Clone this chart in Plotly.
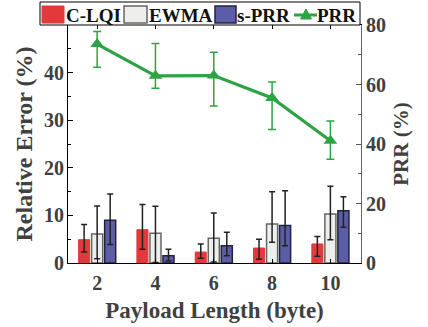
import plotly.graph_objects as go

# ---------------- data ----------------
payload = [2, 4, 6, 8, 10]

clqi = [4.9, 7.0, 2.3, 3.15, 4.0]
clqi_up = [3.2, 5.3, 1.7, 1.85, 1.55]
clqi_dn = [2.6, 4.1, 1.3, 2.35, 2.6]

ewma = [6.1, 6.25, 5.2, 8.2, 10.3]
ewma_up = [5.9, 5.65, 5.3, 6.75, 5.8]
ewma_dn = [5.2, 6.15, 5.0, 3.85, 5.4]

sprr = [9.0, 1.5, 3.6, 7.9, 11.0]
sprr_up = [5.5, 1.4, 2.85, 7.3, 2.9]
sprr_dn = [5.1, 1.1, 2.1, 4.3, 3.5]

prr = [73.6, 62.9, 63.0, 55.5, 41.1]
prr_up = [4.2, 10.9, 7.8, 5.3, 6.6]
prr_dn = [7.8, 4.2, 10.2, 10.6, 6.2]

series_names = ["C-LQI", "EWMA", "s-PRR", "PRR"]
left_ticks = [0, 10, 20, 30, 40]
left_minor = [5, 15, 25, 35, 45]
right_ticks = [0, 20, 40, 60, 80]
right_minor = [10, 30, 50, 70]

RED = "#e23a3a"
GRAY = "#eeeeec"
BLUE = "#5b5ea6"
GREEN = "#2fa344"
FONT = "'Liberation Serif', 'Times New Roman', Times, serif"

# ---------------- layout geometry (pixels) ----------------
W, H = 428, 327
ML, MR, MT, MB = 68, 67, 25, 64
PW = W - ML - MR
PH = H - MT - MB


def px(x):
    return (x - ML) / PW


def py(y):
    return (H - MB - y) / PH


fig = go.Figure()

err_style = dict(type="data", symmetric=False, color="#222222", thickness=1.5, width=3)

fig.add_trace(go.Bar(
    x=payload, y=clqi, name=series_names[0],
    marker=dict(color=RED, line=dict(color=RED, width=1)),
    error_y=dict(array=clqi_up, arrayminus=clqi_dn, **err_style),
    showlegend=False,
))
fig.add_trace(go.Bar(
    x=payload, y=ewma, name=series_names[1],
    marker=dict(color=GRAY, line=dict(color="#666666", width=1.5)),
    error_y=dict(array=ewma_up, arrayminus=ewma_dn, **err_style),
    showlegend=False,
))
fig.add_trace(go.Bar(
    x=payload, y=sprr, name=series_names[2],
    marker=dict(color=BLUE, line=dict(color="#23233a", width=1.5)),
    error_y=dict(array=sprr_up, arrayminus=sprr_dn, **err_style),
    showlegend=False,
))
fig.add_trace(go.Scatter(
    x=payload, y=prr, name=series_names[3], yaxis="y2",
    mode="lines+markers",
    line=dict(color=GREEN, width=3.2),
    marker=dict(symbol="triangle-up", size=12, color=GREEN),
    error_y=dict(type="data", symmetric=False, array=prr_up, arrayminus=prr_dn,
                 color=GREEN, thickness=1.5, width=4),
    showlegend=False,
))

tickfont = dict(family=FONT, size=20, weight="bold", color="#404040")
titlefont_l = dict(family=FONT, size=24, weight="bold", color="#404040")
titlefont_x = dict(family=FONT, size=23, weight="bold", color="#404040")
titlefont_r = dict(family=FONT, size=21, weight="bold", color="#404040")

fig.update_layout(
    template="none",
    width=W, height=H,
    margin=dict(l=ML, r=MR, t=MT, b=MB, pad=0, autoexpand=False),
    paper_bgcolor="white", plot_bgcolor="white",
    barmode="group", bargap=0.33, bargroupgap=0.15,
    font=dict(family=FONT),
    hovermode=False,
    xaxis=dict(
        automargin=False,
        range=[1, 11.05], tickmode="array", tickvals=payload,
        ticktext=[str(v) for v in payload],
        ticks="inside", ticklen=4, tickcolor="black", tickwidth=1,
        showline=True, linecolor="black", linewidth=1, mirror="ticks",
        showgrid=False, zeroline=False, tickfont=tickfont, ticklabelstandoff=2,
        title=dict(text="Payload Length (byte)", font=titlefont_x, standoff=8),
    ),
    yaxis=dict(
        automargin=False,
        range=[0, 50], tickmode="array", tickvals=left_ticks,
        ticks="inside", ticklen=5, tickcolor="black", tickwidth=1,
        minor=dict(tickmode="array", tickvals=left_minor, ticks="inside",
                   ticklen=3, tickcolor="black", showgrid=False),
        showline=True, linecolor="black", linewidth=1,
        showgrid=False, zeroline=False, tickfont=tickfont, ticklabelstandoff=-1,
        title=dict(text="Relative Error (%)", font=titlefont_l, standoff=4),
    ),
    yaxis2=dict(
        automargin=False,
        range=[0, 80], overlaying="y", side="right", tickmode="array",
        tickvals=right_ticks,
        ticks="inside", ticklen=5, tickcolor="#555555", tickwidth=1,
        minor=dict(tickmode="array", tickvals=right_minor, ticks="inside",
                   ticklen=3, tickcolor="#555555", showgrid=False),
        showline=True, linecolor="#666666", linewidth=1,
        showgrid=False, zeroline=False, tickfont=tickfont, ticklabelstandoff=0,
        title=dict(text="PRR (%)", font=titlefont_r, standoff=8),
    ),
)

# ---------------- custom legend ----------------
shapes = []
shapes.append(dict(type="rect", xref="paper", yref="paper",
                   x0=px(40), x1=px(360), y0=py(25), y1=py(2),
                   line=dict(color="black", width=1), fillcolor="white", layer="above"))
swatches = [(42, 64, RED, RED), (124, 147, GRAY, "#666666"), (215, 236, BLUE, "#23233a")]
for x0, x1, fc, lc in swatches:
    shapes.append(dict(type="rect", xref="paper", yref="paper",
                       x0=px(x0), x1=px(x1), y0=py(23), y1=py(6),
                       line=dict(color=lc, width=1 if lc == RED else 1.5),
                       fillcolor=fc, layer="above"))
shapes.append(dict(type="line", xref="paper", yref="paper",
                   x0=px(294), x1=px(317), y0=py(15), y1=py(15),
                   line=dict(color=GREEN, width=3), layer="above"))
tri = "M {:.5f} {:.5f} L {:.5f} {:.5f} L {:.5f} {:.5f} Z".format(
    px(300.5), py(19), px(311.5), py(19), px(306), py(9))
shapes.append(dict(type="path", xref="paper", yref="paper", path=tri,
                   fillcolor=GREEN, line=dict(color=GREEN, width=1), layer="above"))
fig.update_layout(shapes=shapes)

text_x = [65, 148, 236, 316]
for name, tx in zip(series_names, text_x):
    fig.add_annotation(x=px(tx), y=py(15.5), xref="paper", yref="paper",
                       text=name, showarrow=False, xanchor="left", yanchor="middle",
                       font=dict(family=FONT, size=19, weight="bold", color="#111111"),
                       borderpad=0)

fig.write_html(
    "out.html",
    config={"displayModeBar": False, "staticPlot": True},
    post_script="document.body.style.margin='0';document.body.style.padding='0';",
)
